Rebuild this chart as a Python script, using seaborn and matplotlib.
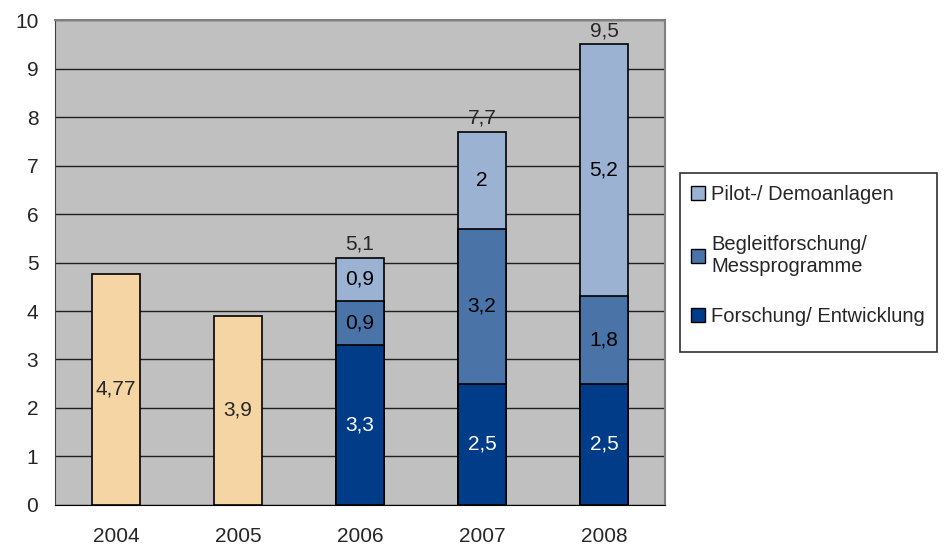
import numpy as np
import pandas as pd
import seaborn as sns
import matplotlib.pyplot as plt
from matplotlib.patches import Patch, Rectangle

years = ['2004', '2005', '2006', '2007', '2008']
gesamt = [4.77, 3.9, np.nan, np.nan, np.nan]
forschung = [np.nan, np.nan, 3.3, 2.5, 2.5]
begleit = [np.nan, np.nan, 0.9, 3.2, 1.8]
pilot = [np.nan, np.nan, 0.9, 2.0, 5.2]
totals = [np.nan, np.nan, 5.1, 7.7, 9.5]

c_beige = '#F5D5A3'
c_dark = '#003C87'
c_mid = '#4A74A8'
c_light = '#9CB2D2'
FS = 15

sns.set_style('white')
plt.rcParams['font.family'] = ['Liberation Sans', 'DejaVu Sans']

df = pd.DataFrame({'year': years, 'gesamt': gesamt, 'forschung': forschung,
                   'begleit': begleit, 'pilot': pilot})
df['cum_mid'] = df['forschung'] + df['begleit']
df['cum_top'] = df['cum_mid'] + df['pilot']

fig = plt.figure(figsize=(9.48, 5.47), dpi=100)
ax = fig.add_axes([0.058, 0.0768, 0.6435, 0.8866])
ax.set_facecolor('#C0C0C0')

bar_kw = dict(order=years, width=0.4, edgecolor='black', linewidth=1.2, ax=ax, zorder=3)
sns.barplot(data=df, x='year', y='gesamt', color=c_beige, saturation=1, **bar_kw)
sns.barplot(data=df, x='year', y='cum_top', color=c_light, saturation=1, **bar_kw)
sns.barplot(data=df, x='year', y='cum_mid', color=c_mid, saturation=1, **bar_kw)
sns.barplot(data=df, x='year', y='forschung', color=c_dark, saturation=1, **bar_kw)

def fmt(v):
    return ('%g' % v).replace('.', ',')

# segment labels
for i in range(len(years)):
    if not np.isnan(gesamt[i]):
        ax.text(i, gesamt[i] / 2, fmt(gesamt[i]), ha='center', va='center', fontsize=FS, zorder=5)
        continue
    b = 0
    for v, col in [(forschung[i], 'white'), (begleit[i], 'black'), (pilot[i], 'black')]:
        ax.text(i, b + v / 2, fmt(v), ha='center', va='center', fontsize=FS, color=col, zorder=5)
        b += v
    ax.text(i, totals[i] + 0.08, fmt(totals[i]), ha='center', va='bottom', fontsize=FS, zorder=5)

ax.set_xlim(-0.5, 4.5)
ax.set_ylim(0, 10)
ax.set_yticks(range(0, 11))
ax.yaxis.grid(True, color='#202020', linewidth=1)
ax.set_axisbelow(True)
ax.set_xlabel('')
ax.set_ylabel('')

ax.set_xticks(np.arange(-0.5, 5, 1), minor=True)
ax.tick_params(axis='x', which='major', length=0, pad=16, labelsize=FS)
ax.tick_params(axis='x', which='minor', length=6, color='black', direction='out')
ax.tick_params(axis='y', length=6, color='#404040', direction='out', labelsize=FS, pad=6)

for s in ['top', 'right']:
    ax.spines[s].set_color('#808080')
    ax.spines[s].set_linewidth(1.5)
ax.spines['left'].set_color('#404040')
ax.spines['bottom'].set_color('black')

handles = [Patch(facecolor=c_light, edgecolor='black', label='Pilot-/ Demoanlagen'),
           Patch(facecolor=c_mid, edgecolor='black', label='Begleitforschung/\nMessprogramme'),
           Patch(facecolor=c_dark, edgecolor='black', label='Forschung/ Entwicklung')]
leg = fig.legend(handles=handles, loc='upper left', bbox_to_anchor=(0.7165, 0.684),
                 fontsize=14.5, frameon=False,
                 handlelength=0.7, handleheight=0.7, handletextpad=0.3,
                 labelspacing=1.55, borderpad=0.6, borderaxespad=0)

# legend box (excel style, taller than the entries)
fig.patches.append(Rectangle((680 / 948, 1 - 352 / 547), 257 / 948, 179 / 547,
                             transform=fig.transFigure, fill=False,
                             edgecolor='#303030', linewidth=1.2))

fig.savefig('out.png', dpi=100)
